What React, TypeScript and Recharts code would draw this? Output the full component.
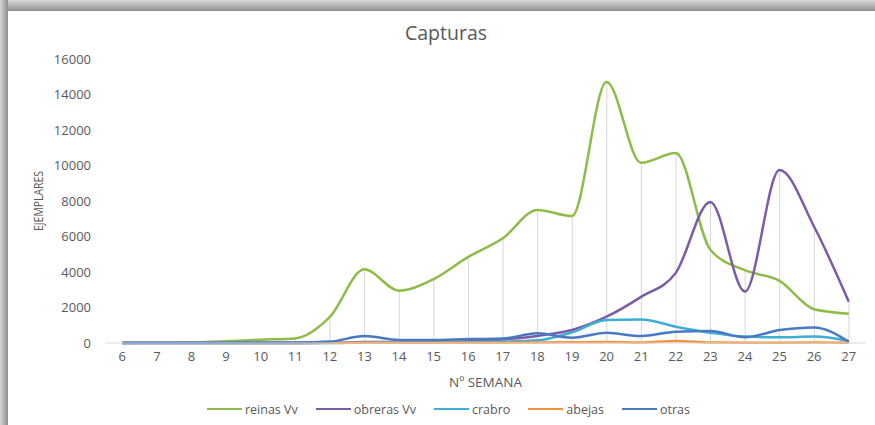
import React from 'react';
import {
  ComposedChart, Line, Bar, XAxis, YAxis, Legend,
} from 'recharts';

const weeks = ['6', '7', '8', '9', '10', '11', '12', '13', '14', '15', '16', '17', '18', '19', '20', '21', '22', '23', '24', '25', '26', '27'];

const reinas = [0, 10, 30, 100, 190, 260, 1470, 4150, 2950, 3600, 4850, 5900, 7500, 7150, 14700, 10150, 10700, 5250, 4100, 3500, 1900, 1650];
const obreras = [0, 0, 0, 0, 0, 0, 20, 50, 60, 70, 100, 200, 400, 730, 1480, 2600, 3950, 7950, 2900, 9750, 6550, 2330];
const crabro = [0, 0, 0, 0, 0, 0, 0, 30, 40, 50, 60, 80, 150, 600, 1300, 1330, 920, 580, 360, 320, 360, 110];
const abejas = [0, 0, 0, 0, 0, 0, 10, 10, 10, 10, 20, 20, 30, 40, 60, 30, 110, 30, 20, 20, 30, 20];
const otras = [10, 10, 20, 20, 30, 30, 80, 390, 170, 170, 220, 250, 550, 300, 580, 390, 640, 680, 320, 730, 880, 70];

const yTicks = [0, 2000, 4000, 6000, 8000, 10000, 12000, 14000, 16000];

const series = [
  { key: 'reinas', name: 'reinas Vv', color: '#8fbc48' },
  { key: 'obreras', name: 'obreras Vv', color: '#7b5ca6' },
  { key: 'crabro', name: 'crabro', color: '#3daed6' },
  { key: 'abejas', name: 'abejas', color: '#f4913a' },
  { key: 'otras', name: 'otras', color: '#4a79c3' },
];

const data = weeks.map((w, i) => ({
  week: w,
  reinas: reinas[i],
  obreras: obreras[i],
  crabro: crabro[i],
  abejas: abejas[i],
  otras: otras[i],
  // drop line goes up to the highest series at that week
  drop: Math.max(reinas[i], obreras[i], crabro[i], abejas[i], otras[i]),
}));

const font = '"Open Sans", sans-serif';

function LegendBox() {
  return (
    <div style={{ display: 'flex', justifyContent: 'center', alignItems: 'center', fontFamily: font, fontSize: 12.5, color: '#595959', height: 20 }}>
      {series.map((s) => (
        <div key={s.key} style={{ display: 'flex', alignItems: 'center', marginRight: 18 }}>
          <span style={{ display: 'inline-block', width: 35, height: 2.5, background: s.color, marginRight: 3 }} />
          <span>{s.name}</span>
        </div>
      ))}
    </div>
  );
}

function YLabel(props: any) {
  const vb = props.viewBox || {};
  const cx = 38;
  const cy = vb.y + vb.height / 2;
  return (
    <text
      x={cx}
      y={cy}
      transform={`rotate(-90, ${cx}, ${cy})`}
      textAnchor="middle"
      dominantBaseline="central"
      fill="#595959"
      fontSize={12}
      fontFamily={font}
      textLength={60}
      lengthAdjust="spacingAndGlyphs"
    >
      EJEMPLARES
    </text>
  );
}

export default function App() {
  return (
    <div style={{ position: 'fixed', left: 0, top: 0, width: 875, height: 425, overflow: 'hidden', background: '#fff' }}>
      <div style={{ position: 'absolute', left: 0, top: 0, width: 875, height: 11, background: 'linear-gradient(to bottom, #d8d8d8, #8e8e8e)' }} />
      <div style={{ position: 'absolute', left: 0, top: 0, width: 8, height: 425, background: 'linear-gradient(to right, #d8d8d8, #8e8e8e)' }} />
      <div style={{ position: 'absolute', left: 0, top: 19, width: 892, textAlign: 'center', fontFamily: font, fontSize: 19.5, color: '#595959' }}>
        Capturas
      </div>
      <div style={{ position: 'absolute', left: 0, top: 0 }}>
        <ComposedChart width={875} height={425} data={data} margin={{ top: 59, right: 9, left: 25, bottom: 12 }}>
          <defs>
            <linearGradient id="plotBg" x1="0" y1="0" x2="0" y2="1">
              <stop offset="0%" stopColor="#ffffff" />
              <stop offset="100%" stopColor="#e9e9e9" />
            </linearGradient>
          </defs>
          <XAxis
            dataKey="week"
            tickLine={false}
            tickSize={0}
            tickMargin={9}
            height={50}
            axisLine={{ stroke: '#d9d9d9' }}
            tick={{ fill: '#595959', fontSize: 13, fontFamily: font }}
            interval={0}
            label={{ value: 'Nº SEMANA', position: 'insideBottom', offset: 6, fill: '#595959', fontSize: 13.5, fontFamily: font }}
          />
          <YAxis
            width={80}
            domain={[0, 16000]}
            ticks={yTicks}
            axisLine={false}
            tickLine={false}
            tickSize={0}
            tickMargin={14}
            tick={{ fill: '#595959', fontSize: 13, fontFamily: font }}
            label={<YLabel />}
          />
          <Bar dataKey="drop" barSize={1} fill="#d6d6d6" isAnimationActive={false} legendType="none" />
          {series.map((s) => (
            <Line
              key={s.key}
              type="monotone"
              dataKey={s.key}
              name={s.name}
              stroke={s.color}
              strokeWidth={2.5}
              dot={false}
              activeDot={false}
              isAnimationActive={false}
            />
          ))}
          <Legend verticalAlign="bottom" height={20} content={() => <LegendBox />} wrapperStyle={{ top: 399, left: 20, width: 875 }} />
        </ComposedChart>
      </div>
    </div>
  );
}
